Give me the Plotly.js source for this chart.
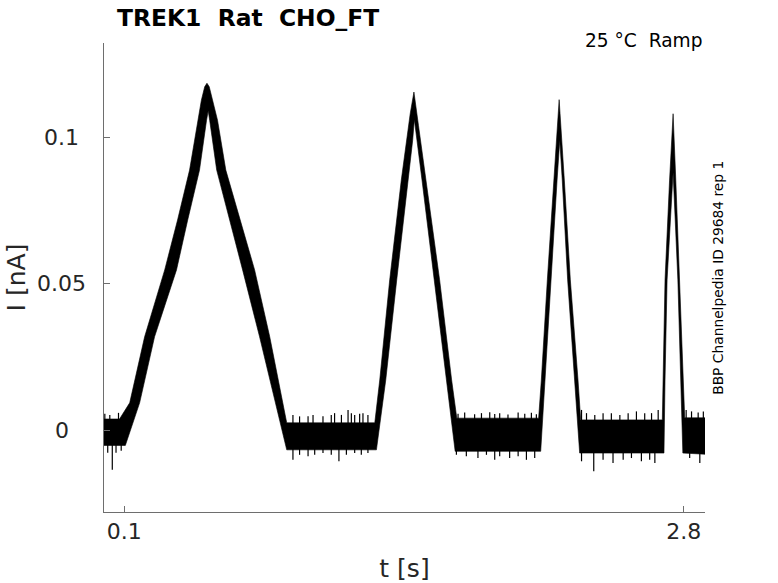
<!DOCTYPE html>
<html>
<head>
<meta charset="utf-8">
<script src="https://cdn.plot.ly/plotly-3.0.1.min.js"></script>
<style>
  html, body { margin: 0; padding: 0; background: #ffffff; }
  #chart { width: 778px; height: 583px; }
</style>
</head>
<body>
<div id="chart"></div>
<script>
// ---- Data (time in s, current in nA) ----
// Upper edge of the recorded trace band
const upperT = [0.002, 0.077, 0.126, 0.198, 0.295, 0.357, 0.415, 0.454, 0.472, 0.488, 0.499, 0.510, 0.526, 0.550, 0.590, 0.729, 0.802, 0.864, 0.884,
                1.309, 1.333, 1.381, 1.437, 1.480, 1.498, 1.520, 1.555, 1.622, 1.680, 1.705,
                2.100, 2.113, 2.142, 2.173, 2.199, 2.224, 2.253, 2.290, 2.303,
                2.697, 2.701, 2.710, 2.732, 2.749, 2.762, 2.781, 2.797, 2.805, 2.903];
const upperI = [0.0040, 0.0040, 0.0095, 0.0320, 0.0548, 0.0718, 0.0888, 0.1058, 0.1126, 0.1172, 0.1184, 0.1172, 0.1126, 0.1058, 0.0888, 0.0548, 0.0320, 0.0095, 0.0027,
                0.0027, 0.0173, 0.0514, 0.0854, 0.1080, 0.1154, 0.1040, 0.0854, 0.0514, 0.0173, 0.0043,
                0.0043, 0.0173, 0.0514, 0.0854, 0.1128, 0.0854, 0.0514, 0.0173, 0.0037,
                0.0037, 0.0173, 0.0514, 0.0854, 0.1080, 0.0854, 0.0514, 0.0173, 0.0044, 0.0044];
// Lower edge of the recorded trace band
const lowerT = [0.002, 0.105, 0.174, 0.246, 0.352, 0.406, 0.463, 0.497, 0.505, 0.512, 0.546, 0.671, 0.753, 0.830, 0.884,
                1.317, 1.362, 1.415, 1.469, 1.492, 1.500, 1.511, 1.537, 1.596, 1.656, 1.697,
                2.110, 2.130, 2.161, 2.189, 2.202, 2.214, 2.240, 2.274, 2.298,
                2.705, 2.710, 2.720, 2.749, 2.772, 2.787, 2.796, 2.903];
const lowerI = [-0.0050, -0.0050, 0.0095, 0.0320, 0.0548, 0.0718, 0.0888, 0.1058, 0.1090, 0.1058, 0.0888, 0.0548, 0.0320, 0.0095, -0.0065,
                -0.0065, 0.0173, 0.0514, 0.0854, 0.0990, 0.1060, 0.0990, 0.0854, 0.0514, 0.0173, -0.0070,
                -0.0070, 0.0173, 0.0514, 0.0854, 0.0990, 0.0854, 0.0514, 0.0173, -0.0076,
                -0.0076, 0.0173, 0.0514, 0.0880, 0.0514, 0.0173, -0.0076, -0.0080];
// Noise spikes poking out above the band
const spikeUpT = [0.006, 0.030, 0.072,
                  0.914, 0.946, 0.987, 1.011, 1.059, 1.099, 1.115, 1.148, 1.180, 1.196, 1.212, 1.236, 1.252, 1.276,
                  1.711, 1.743, 1.791, 1.824, 1.864, 1.888, 1.912, 1.952, 2.001, 2.033, 2.065, 2.089,
                  2.307, 2.331, 2.371, 2.411, 2.451, 2.492, 2.532, 2.572, 2.612, 2.645, 2.677,
                  2.812, 2.838, 2.870, 2.895];
const spikeUpI = [0.0058, 0.0054, 0.0061,
                  0.0054, 0.0049, 0.0049, 0.0054, 0.0049, 0.0054, 0.0060, 0.0054, 0.0071, 0.0060, 0.0054, 0.0058, 0.0060, 0.0054,
                  0.0058, 0.0062, 0.0056, 0.0060, 0.0063, 0.0057, 0.0060, 0.0055, 0.0062, 0.0058, 0.0061, 0.0056,
                  0.0071, 0.0060, 0.0054, 0.0060, 0.0060, 0.0054, 0.0060, 0.0066, 0.0060, 0.0060, 0.0071,
                  0.0071, 0.0066, 0.0062, 0.0066];
// Noise spikes poking out below the band
const spikeDnT = [0.020, 0.042, 0.060, 0.085,
                  0.914, 0.946, 0.987, 1.019, 1.059, 1.099, 1.136, 1.172, 1.212, 1.244, 1.276,
                  1.703, 1.751, 1.807, 1.848, 1.888, 1.912, 1.960, 2.001, 2.041, 2.081,
                  2.307, 2.366, 2.411, 2.459, 2.508, 2.548, 2.596, 2.636, 2.661,
                  2.829, 2.878];
const spikeDnI = [-0.0075, -0.0133, -0.0075, -0.0068,
                  -0.0099, -0.0082, -0.0087, -0.0082, -0.0076, -0.0082, -0.0104, -0.0082, -0.0076, -0.0082, -0.0076,
                  -0.0082, -0.0087, -0.0093, -0.0082, -0.0099, -0.0087, -0.0093, -0.0087, -0.0099, -0.0093,
                  -0.0104, -0.0138, -0.0099, -0.0110, -0.0099, -0.0093, -0.0104, -0.0099, -0.0110,
                  -0.0093, -0.0110];
// Axis ticks
const xTickVals = [0.1, 2.8];
const xTickText = ['0.1', '2.8'];
const yTickVals = [0, 0.05, 0.1];
const yTickText = ['0', '0.05', '0.1'];

// ---- Build traces ----
const polyT = upperT.concat(lowerT.slice().reverse());
const polyI = upperI.concat(lowerI.slice().reverse());

const spX = [], spY = [];
spikeUpT.forEach((t, k) => { spX.push(t, t, null); spY.push(0, spikeUpI[k], null); });
spikeDnT.forEach((t, k) => { spX.push(t, t, null); spY.push(0, spikeDnI[k], null); });

const traces = [
  { x: polyT, y: polyI, type: 'scatter', mode: 'lines', fill: 'toself',
    fillcolor: '#000000', line: { color: '#000000', width: 0.6 }, hoverinfo: 'skip' },
  { x: spX, y: spY, type: 'scatter', mode: 'lines',
    line: { color: '#000000', width: 1.2 }, hoverinfo: 'skip' }
];

const FONT = 'DejaVu Sans, Verdana, sans-serif';
const NB = '\u00A0';

const annotations = yTickVals.map((v, k) => ({
  text: yTickText[k], xref: 'paper', yref: 'y', x: -0.0699, y: v,
  xanchor: 'center', yanchor: 'middle', showarrow: false,
  font: { family: FONT, size: 22, color: '#262626' }
}));
annotations.push({
  text: '25 °C' + NB + NB + 'Ramp', xref: 'paper', yref: 'paper', x: 1.0, y: 1.0057,
  xanchor: 'right', yanchor: 'middle', showarrow: false,
  font: { family: FONT, size: 18.6, color: '#000000' }
});
annotations.push({
  text: 'BBP Channelpedia ID 29684 rep 1', xref: 'paper', yref: 'paper', x: 1.0205, y: 0.5,
  xanchor: 'center', yanchor: 'middle', showarrow: false, textangle: -90,
  font: { family: FONT, size: 13.8, color: '#000000' }
});

const layout = {
  width: 778, height: 583,
  margin: { l: 104, r: 73, t: 43, b: 71, pad: 0 },
  paper_bgcolor: '#ffffff', plot_bgcolor: '#ffffff',
  showlegend: false,
  font: { family: FONT, color: '#262626' },
  title: {
    text: '<b>TREK1' + NB + NB + 'Rat' + NB + NB + 'CHO_FT</b>',
    xref: 'container', yref: 'container', x: 117 / 778, xanchor: 'left',
    y: 1 - 18 / 583, yanchor: 'middle',
    font: { family: FONT, size: 23.4, color: '#000000' }
  },
  xaxis: {
    range: [0.002, 2.903], showgrid: false, zeroline: false,
    showline: true, linecolor: '#6e6e6e', linewidth: 1,
    ticks: 'inside', ticklen: 6, tickcolor: '#6e6e6e', tickwidth: 1,
    tickvals: xTickVals, ticktext: xTickText,
    tickfont: { family: FONT, size: 22, color: '#262626' },
    title: { text: 't [s]', font: { family: FONT, size: 25, color: '#262626' }, standoff: 16 }
  },
  yaxis: {
    range: [-0.02768, 0.1321], showgrid: false, zeroline: false,
    showline: true, linecolor: '#6e6e6e', linewidth: 1,
    ticks: 'inside', ticklen: 6, tickcolor: '#6e6e6e', tickwidth: 1,
    tickvals: yTickVals, showticklabels: false,
    title: { text: 'I [nA]', font: { family: FONT, size: 25, color: '#262626' }, standoff: 70 }
  },
  annotations: annotations
};

Plotly.newPlot('chart', traces, layout, { displayModeBar: false, staticPlot: true });
</script>
</body>
</html>
